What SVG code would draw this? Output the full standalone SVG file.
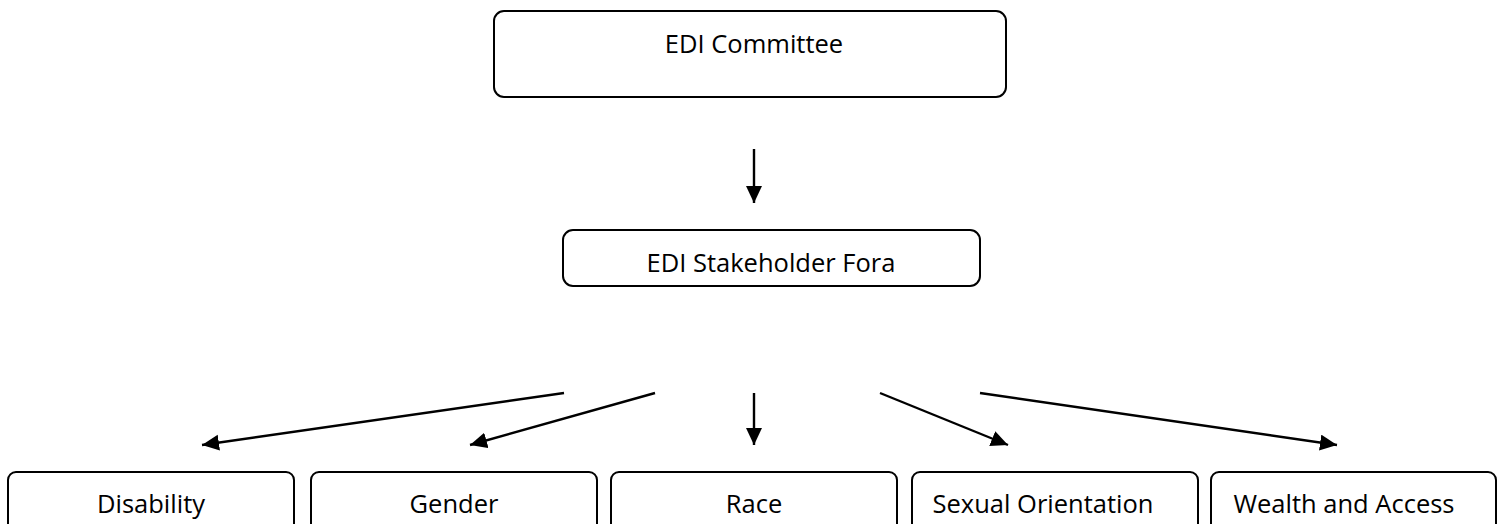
<svg xmlns="http://www.w3.org/2000/svg" width="1504" height="524" viewBox="0 0 1504 524">
  <style>
    .box { fill: #ffffff; stroke: #000000; stroke-width: 2; }
    .lbl { font-family: "Open Sans", "Noto Sans", sans-serif; font-size: 25.5px; fill: #000000; text-anchor: middle; }
    .conn { stroke: #000000; stroke-width: 2.4; fill: none; marker-end: url(#arrow); }
  </style>
  <defs>
    <marker id="arrow" markerUnits="userSpaceOnUse" markerWidth="20" markerHeight="18" refX="17" refY="8" orient="auto">
      <path d="M0,0 L17,8 L0,16 z" fill="#000000"/>
    </marker>
  </defs>
  <rect width="1504" height="524" fill="#ffffff"/>

  <g id="node-edi-committee">
    <rect class="box" x="494" y="11" width="512" height="86" rx="10"/>
    <text class="lbl" x="754" y="53">EDI Committee</text>
  </g>
  <g id="node-stakeholder-fora">
    <rect class="box" x="563" y="230" width="417" height="56" rx="10"/>
    <text class="lbl" x="771" y="272">EDI Stakeholder Fora</text>
  </g>
  <g id="node-disability">
    <rect class="box" x="8" y="472" width="286" height="70" rx="8"/>
    <text class="lbl" x="151" y="513">Disability</text>
  </g>
  <g id="node-gender">
    <rect class="box" x="311" y="472" width="286" height="70" rx="8"/>
    <text class="lbl" x="454" y="513">Gender</text>
  </g>
  <g id="node-race">
    <rect class="box" x="611" y="472" width="286" height="70" rx="8"/>
    <text class="lbl" x="754" y="513">Race</text>
  </g>
  <g id="node-sexual-orientation">
    <rect class="box" x="912" y="472" width="286" height="70" rx="8"/>
    <text class="lbl" x="1043" y="513">Sexual Orientation</text>
  </g>
  <g id="node-wealth-access">
    <rect class="box" x="1211" y="472" width="285" height="70" rx="8"/>
    <text class="lbl" x="1344" y="513">Wealth and Access</text>
  </g>

  <g id="connectors">
    <line class="conn" x1="754" y1="149" x2="754" y2="203"/>
    <line class="conn" x1="564" y1="393" x2="202" y2="445"/>
    <line class="conn" x1="655" y1="393" x2="470" y2="445"/>
    <line class="conn" x1="754" y1="393" x2="754" y2="445"/>
    <line class="conn" x1="880" y1="393" x2="1008" y2="445"/>
    <line class="conn" x1="980" y1="393" x2="1337" y2="445"/>
  </g>
</svg>
